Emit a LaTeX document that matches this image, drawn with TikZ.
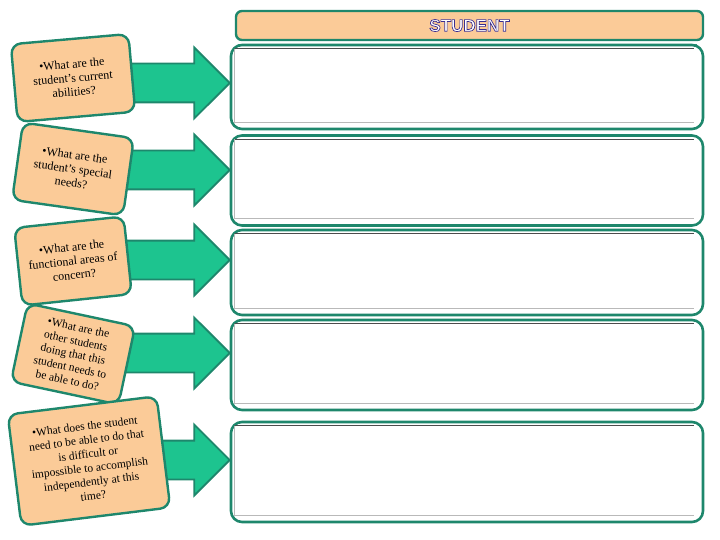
\documentclass[tikz,border=0pt]{standalone}
\usepackage{fontspec}
\setmainfont{Liberation Serif}
\newfontfamily\headfont{Liberation Sans}
\usetikzlibrary{shapes.arrows}
\definecolor{peach}{HTML}{FBCB98}
\definecolor{rim}{HTML}{1E876C}
\definecolor{mint}{HTML}{1DC48F}
\definecolor{ink}{HTML}{3A2E8E}
% hollow letters with a dark outline
\newcommand{\outlined}[1]{\special{pdf:code 2 Tr 0.7 w 0.23 0.18 0.56 RG}#1\special{pdf:code 0 Tr 0.4 w}}

\begin{document}
\begin{tikzpicture}[x=1pt,y=-1pt,
  card/.style={draw=rim, line width=2.4pt, fill=peach, rounded corners=10pt,
               align=center, inner sep=2pt, font=\fontsize{12}{14}\selectfont},
  slot/.style={draw=rim, line width=2.6pt, fill=white, rounded corners=11pt,
               minimum width=472pt},
  blockarr/.style={single arrow, draw=rim, line width=1.8pt, fill=mint,
                   single arrow head extend=16pt, inner xsep=0pt, inner ysep=18.5pt,
                   minimum height=105pt},
  hdr/.style={draw=rim, line width=2.4pt, fill=peach, rounded corners=6pt,
              minimum width=467pt, minimum height=29pt, text=white,
              font=\headfont\bfseries\fontsize{17}{17}\selectfont},
  toprule/.style={draw=gray!60!black, line width=1.2pt},
  siderule/.style={draw=gray!55, line width=0.8pt}
]
\useasboundingbox (0,0) rectangle (720,540);

% header
\node[hdr] (head) at (469.5,25.5) {\outlined{STUDENT}};
\draw[draw=rim!80, line width=0.8pt] ([xshift=3pt,yshift=-3pt]head.south west)
  -- ([xshift=-7pt,yshift=-3pt]head.south east);

% answer boxes
\node[slot, minimum height=84pt] (ans1) at (467,87) {};
\node[slot, minimum height=90pt] (ans2) at (467,180.5) {};
\node[slot, minimum height=85pt] (ans3) at (467,272.5) {};
\node[slot, minimum height=90pt] (ans4) at (467,365) {};
\node[slot, minimum height=100pt] (ans5) at (467,472) {};
\foreach \i in {1,...,5}{
  \draw[toprule] ([xshift=5pt,yshift=-5pt]ans\i.north west)
    -- ([xshift=-10pt,yshift=-5pt]ans\i.north east);
  \draw[siderule] ([xshift=5pt,yshift=-5pt]ans\i.north west)
    -- ([xshift=5pt,yshift=8pt]ans\i.south west)
    -- ([xshift=-10pt,yshift=8pt]ans\i.south east);
}

% arrows
\node[blockarr, anchor=tip] (arr1) at (231,83) {};
\node[blockarr, anchor=tip] (arr2) at (231,170) {};
\node[blockarr, anchor=tip] (arr3) at (231,260) {};
\node[blockarr, anchor=tip] (arr4) at (231,353) {};
\node[blockarr, anchor=tip] (arr5) at (231,460) {};

% question cards
\node[card, minimum width=118pt, minimum height=78pt, rotate=5] (q1) at (73,78)
  {•What are the\\student’s current\\abilities?};
\node[card, minimum width=112pt, minimum height=78pt, rotate=-8] (q2) at (73,169)
  {•What are the\\student’s special\\needs?};
\node[card, minimum width=110pt, minimum height=78pt, rotate=6] (q3) at (73,261)
  {•What are the\\functional areas of\\concern?};
\node[card, minimum width=110pt, minimum height=80pt, rotate=-12,
      font=\fontsize{11.5}{13.5}\selectfont] (q4) at (73,354)
  {•What are the\\other students\\doing that this\\student needs to\\be able to do?};
\node[card, minimum width=150pt, minimum height=112pt, rotate=7,
      font=\fontsize{11.5}{14}\selectfont] (q5) at (89,461)
  {•What does the student\\need to be able to do that\\is difficult or\\impossible to accomplish\\independently at this\\time?};
\end{tikzpicture}
\end{document}
